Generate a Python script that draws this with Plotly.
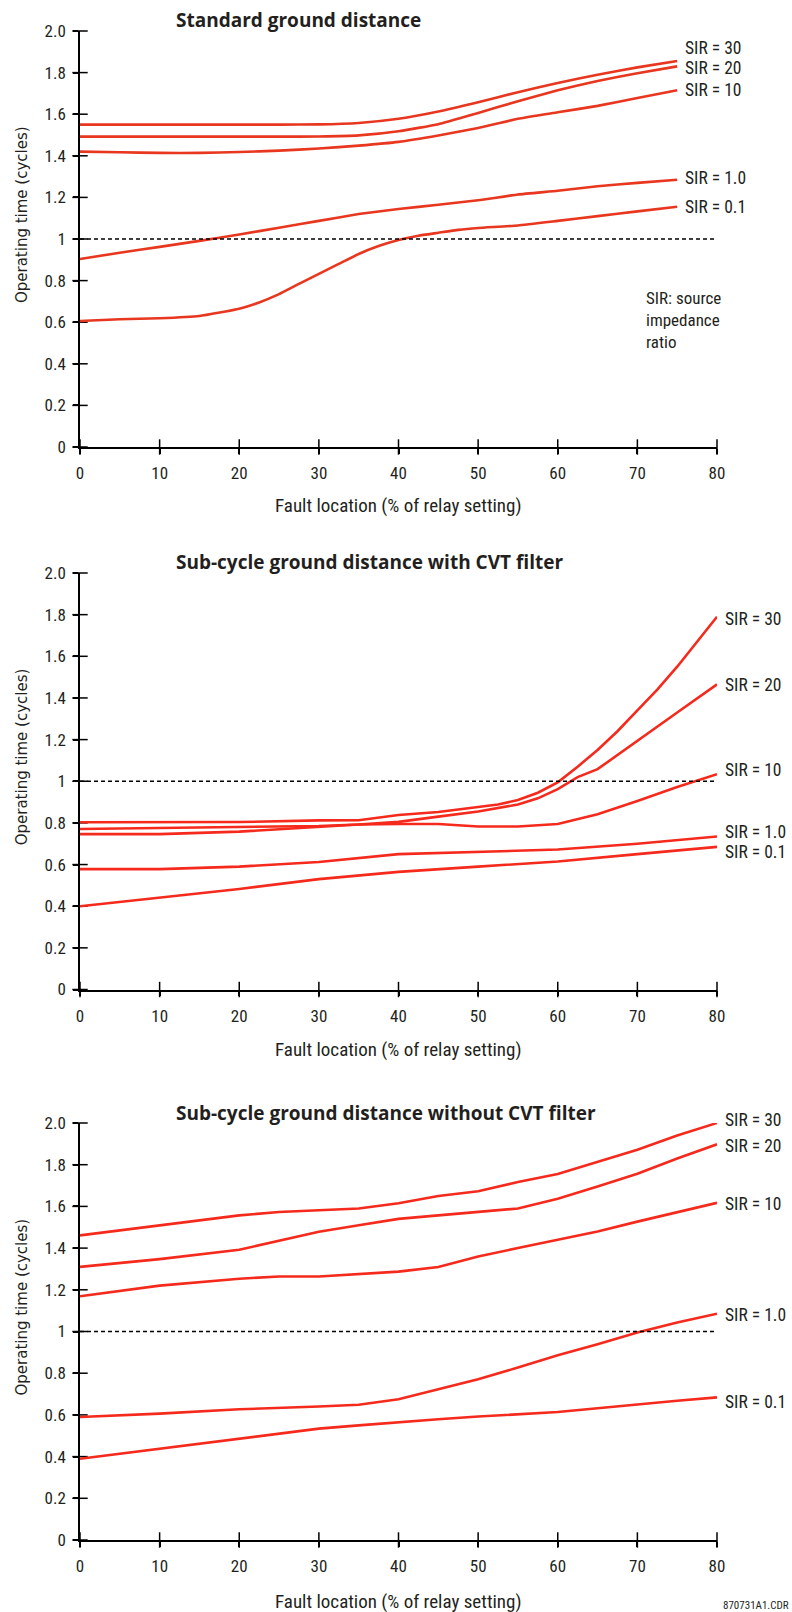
import plotly.graph_objects as go

# ---------------- data ----------------
TICK_Y = [0, 0.2, 0.4, 0.6, 0.8, 1.0, 1.2, 1.4, 1.6, 1.8, 2.0]
TICK_Y_TEXT = ["0", "0.2", "0.4", "0.6", "0.8", "1", "1.2", "1.4", "1.6", "1.8", "2.0"]
TICK_X = [0, 10, 20, 30, 40, 50, 60, 70, 80]
SERIES_NAMES = ["SIR = 30", "SIR = 20", "SIR = 10", "SIR = 1.0", "SIR = 0.1"]
TITLES = ["Standard ground distance",
          "Sub-cycle ground distance with CVT filter",
          "Sub-cycle ground distance without CVT filter"]
X_TITLE = "Fault location (% of relay setting)"
Y_TITLE = "Operating time (cycles)"

# Chart 1: standard ground distance
c1_x = [0, 5, 10, 15, 20, 25, 30, 35, 40, 45, 50, 55, 60, 65, 70, 75]
c1_sir30 = [1.55, 1.55, 1.55, 1.55, 1.55, 1.55, 1.551, 1.558, 1.578, 1.613, 1.658, 1.706, 1.75, 1.79, 1.825, 1.856]
c1_sir20 = [1.492, 1.492, 1.492, 1.492, 1.492, 1.492, 1.493, 1.498, 1.518, 1.552, 1.606, 1.662, 1.715, 1.76, 1.797, 1.83]
c1_sir10 = [1.42, 1.417, 1.414, 1.414, 1.418, 1.425, 1.435, 1.449, 1.467, 1.498, 1.534, 1.578, 1.609, 1.64, 1.678, 1.715]
c1_sir1 = [0.904, 0.934, 0.962, 0.991, 1.022, 1.054, 1.087, 1.12, 1.144, 1.165, 1.186, 1.214, 1.232, 1.254, 1.27, 1.285]
c1_x01 = [0, 5, 10, 15, 20, 22.5, 25, 27.5, 30, 32.5, 35, 37.5, 40, 42.5, 45, 47.5, 50, 55, 60, 65, 70, 75]
c1_sir01 = [0.606, 0.614, 0.619, 0.63, 0.665, 0.695, 0.735, 0.784, 0.832, 0.88, 0.928, 0.966, 0.995, 1.016, 1.03, 1.044,
            1.053, 1.065, 1.087, 1.11, 1.133, 1.155]

# Chart 2: sub-cycle with CVT filter
c2_x30 = [0, 10, 20, 30, 35, 40, 45, 50, 52.5, 55, 57.5, 60, 62.5, 65, 67.5, 70, 72.5, 75, 77.5, 80]
c2_sir30 = [0.803, 0.803, 0.804, 0.812, 0.813, 0.838, 0.852, 0.876, 0.888, 0.91, 0.945, 0.995, 1.07, 1.15, 1.24,
            1.34, 1.44, 1.55, 1.67, 1.79]
c2_x20 = [0, 10, 20, 30, 35, 40, 45, 50, 55, 57.5, 60, 62.5, 65, 67.5, 70, 75, 80]
c2_sir20 = [0.771, 0.775, 0.779, 0.785, 0.792, 0.805, 0.83, 0.855, 0.888, 0.918, 0.962, 1.02, 1.058, 1.125, 1.195,
            1.33, 1.465]
c2_x10 = [0, 10, 20, 30, 35, 40, 45, 50, 55, 60, 65, 70, 75, 80]
c2_sir10 = [0.746, 0.746, 0.758, 0.782, 0.792, 0.795, 0.795, 0.783, 0.783, 0.795, 0.842, 0.905, 0.972, 1.034]
c2_x = [0, 10, 20, 30, 40, 50, 60, 70, 80]
c2_sir1 = [0.578, 0.578, 0.59, 0.612, 0.65, 0.66, 0.672, 0.70, 0.735]
c2_sir01 = [0.40, 0.443, 0.483, 0.53, 0.565, 0.59, 0.615, 0.65, 0.685]

# Chart 3: sub-cycle without CVT filter
c3_x = [0, 10, 20, 25, 30, 35, 40, 45, 50, 55, 60, 65, 70, 75, 80]
c3_sir30 = [1.461, 1.51, 1.557, 1.573, 1.58, 1.59, 1.615, 1.65, 1.673, 1.717, 1.755, 1.813, 1.872, 1.94, 2.0]
c3_sir20 = [1.31, 1.347, 1.392, 1.435, 1.478, 1.51, 1.54, 1.557, 1.572, 1.59, 1.637, 1.695, 1.757, 1.83, 1.898]
c3_sir10 = [1.169, 1.22, 1.253, 1.264, 1.264, 1.275, 1.287, 1.309, 1.36, 1.4, 1.44, 1.48, 1.527, 1.573, 1.617]
c3_sir1 = [0.59, 0.606, 0.627, 0.633, 0.64, 0.649, 0.675, 0.723, 0.771, 0.827, 0.886, 0.939, 0.995, 1.043, 1.085]
c3_sir01 = [0.39, 0.438, 0.486, 0.51, 0.534, 0.55, 0.566, 0.579, 0.592, 0.603, 0.614, 0.632, 0.651, 0.668, 0.684]

charts = [
    [(c1_x, c1_sir30), (c1_x, c1_sir20), (c1_x, c1_sir10), (c1_x, c1_sir1), (c1_x01, c1_sir01)],
    [(c2_x30, c2_sir30), (c2_x20, c2_sir20), (c2_x10, c2_sir10), (c2_x, c2_sir1), (c2_x, c2_sir01)],
    [(c3_x, c3_sir30), (c3_x, c3_sir20), (c3_x, c3_sir10), (c3_x, c3_sir1), (c3_x, c3_sir01)],
]
# vertical placement of the series labels (data units)
LABEL_Y = [
    [1.918, 1.824, 1.716, 1.293, 1.154],
    [1.78, 1.46, 1.054, 0.756, 0.66],
    [2.016, 1.89, 1.61, 1.08, 0.662],
]

# ---------------- layout ----------------
W, H = 792, 1612
TEXT = "#231f20"
RED = ["#e8361f", "#f52a1c", "#f52a1c"]
NARROW = "Roboto Condensed, DejaVu Sans Condensed, Liberation Sans Narrow, Roboto, sans-serif"
LINE_SHAPE = ["spline", "linear", "linear"]

# pixel geometry (top, bottom) of each plot area
PLOT_PX = [(31, 447), (573, 989.5), (1123, 1540)]
X_LEFT, X_RIGHT = 80, 717
TITLE_Y_PX = [20, 562, 1113]
XTITLE_Y_PX = [505, 1049, 1601]


def paper_y(i, v):
    top, bot = PLOT_PX[i]
    return 1 - (bot - v / 2.0 * (bot - top)) / H


fig = go.Figure()
annotations = []
shapes = []

for i, series in enumerate(charts):
    n = "" if i == 0 else str(i + 1)
    xa, ya = "x" + n, "y" + n
    top, bot = PLOT_PX[i]
    fig.layout["xaxis" + n] = dict(
        domain=[X_LEFT / W, X_RIGHT / W], range=[0, 80], anchor=ya, automargin=False,
        showgrid=False, zeroline=False, showline=True, linecolor="black", linewidth=1.5,
        ticks="outside", ticklen=5, tickwidth=1.5, tickcolor="black",
        tickvals=TICK_X, ticktext=[str(v) for v in TICK_X],
        tickfont=dict(family=NARROW, size=17, color=TEXT), ticklabelstandoff=5,
        fixedrange=True,
    )
    fig.layout["yaxis" + n] = dict(
        domain=[1 - bot / H, 1 - top / H], range=[0, 2], anchor=xa, automargin=False,
        showgrid=False, zeroline=False, showline=True, linecolor="black", linewidth=1.5,
        ticks="outside", ticklen=5, tickwidth=1.5, tickcolor="black",
        tickvals=TICK_Y, ticktext=TICK_Y_TEXT,
        tickfont=dict(family=NARROW, size=17, color=TEXT), ticklabelstandoff=4,
        fixedrange=True,
    )
    # crossing tick marks (inner half)
    fig.add_trace(go.Scatter(x=[0] * len(TICK_Y), y=TICK_Y, xaxis=xa, yaxis=ya, mode="markers",
                             marker=dict(symbol="line-ew", size=11, line=dict(width=1.5, color="black")),
                             cliponaxis=False, hoverinfo="skip", showlegend=False))
    fig.add_trace(go.Scatter(x=TICK_X, y=[0] * len(TICK_X), xaxis=xa, yaxis=ya, mode="markers",
                             marker=dict(symbol="line-ns", size=11, line=dict(width=1.5, color="black")),
                             cliponaxis=False, hoverinfo="skip", showlegend=False))
    # 1-cycle reference
    shapes.append(dict(type="line", xref=xa, yref=ya, x0=0, x1=80, y0=1, y1=1,
                       line=dict(color="black", width=1.3, dash="4px,3px")))
    for k, (xs, ys) in enumerate(series):
        fig.add_trace(go.Scatter(x=xs, y=ys, xaxis=xa, yaxis=ya, mode="lines",
                                 line=dict(color=RED[i], width=2.6, shape=LINE_SHAPE[i], smoothing=0.4),
                                 cliponaxis=False, name=SERIES_NAMES[k], showlegend=False))
        annotations.append(dict(x=xs[-1], y=paper_y(i, LABEL_Y[i][k]), xref=xa, yref="paper",
                                text=SERIES_NAMES[k],
                                showarrow=False, xanchor="left", yanchor="middle", xshift=6,
                                font=dict(family=NARROW, size=17.5, color=TEXT)))
    # chart title
    annotations.append(dict(x=174 / W, y=1 - TITLE_Y_PX[i] / H, xref="paper", yref="paper",
                            text="<b>" + TITLES[i] + "</b>", showarrow=False,
                            xanchor="left", yanchor="middle",
                            font=dict(family="Open Sans, sans-serif", size=19, color=TEXT)))
    # axis titles
    annotations.append(dict(x=40, y=1 - XTITLE_Y_PX[i] / H, xref=xa, yref="paper", text=X_TITLE,
                            showarrow=False, xanchor="center", yanchor="middle",
                            font=dict(family=NARROW, size=19, color=TEXT)))
    annotations.append(dict(x=22 / W, y=paper_y(i, 1.115), xref="paper", yref="paper", text=Y_TITLE,
                            textangle=-90, showarrow=False, xanchor="center", yanchor="middle",
                            font=dict(family="DejaVu Sans, sans-serif", size=15, color=TEXT)))

# note in chart 1
annotations.append(dict(x=644 / W, y=1 - 286 / H, xref="paper", yref="paper",
                        text="SIR: source<br>impedance<br>ratio", align="left", showarrow=False,
                        xanchor="left", yanchor="top", font=dict(family=NARROW, size=17, color=TEXT)))
# drawing id
annotations.append(dict(x=791 / W, y=1 - 1605 / H, xref="paper", yref="paper", text="870731A1.CDR",
                        showarrow=False, xanchor="right", yanchor="middle",
                        font=dict(family=NARROW, size=11, color=TEXT)))

fig.update_layout(width=W, height=H, margin=dict(l=0, r=0, t=0, b=0, pad=0, autoexpand=False),
                  paper_bgcolor="white", plot_bgcolor="white",
                  annotations=annotations, shapes=shapes, showlegend=False)

fig.write_html("out.html", config={"displayModeBar": False},
               post_script="document.body.style.margin='0';")
